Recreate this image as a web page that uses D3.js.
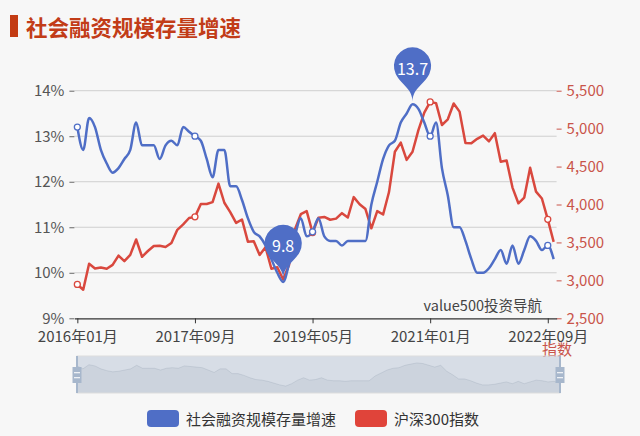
<!DOCTYPE html>
<html><head><meta charset="utf-8">
<script src="https://cdn.jsdelivr.net/npm/d3@7/dist/d3.min.js"></script>
<style>html,body{margin:0;padding:0;background:#f7f7f7;}svg{display:block;}</style>
</head><body><svg id="c" width="640" height="436"></svg>
<script>
// ---- data ----
const startYear = 2016, startMonth = 1, monthCount = 82;
const categories = [];
for (let k = 0; k < monthCount; k++) {
  const y = startYear + Math.floor((startMonth - 1 + k) / 12);
  const m = (startMonth - 1 + k) % 12 + 1;
  categories.push(y + "年" + String(m).padStart(2, "0") + "月");
}
const tickLabels = ["2016年01月","2017年09月","2019年05月","2021年01月","2022年09月"];
const socialFinancingGrowth = [
13.2,12.7,13.4,13.2,12.7,12.4,12.2,12.3,12.5,12.7,
13.3,12.8,12.8,12.8,12.5,12.8,12.9,12.8,13.2,13.1,
13.0,12.9,12.5,12.1,12.7,12.7,11.9,11.9,11.6,11.2,
10.9,10.8,10.6,10.3,10.0,9.8,10.2,10.8,11.2,10.8,
10.9,11.2,10.8,10.7,10.7,10.6,10.7,10.7,10.7,10.7,
11.5,12.0,12.5,12.8,12.9,13.3,13.5,13.7,13.6,13.3,
13.0,13.3,12.3,11.7,11.0,11.0,10.7,10.3,10.0,10.0,
10.1,10.3,10.5,10.2,10.6,10.2,10.5,10.8,10.7,10.5,
10.6,10.3];
const csi300 = [
2946,2877,3218,3156,3169,3154,3204,3327,3253,3336,
3539,3311,3387,3452,3456,3439,3493,3666,3737,3822,
3837,4006,4006,4031,4275,4023,3899,3757,3802,3510,
3517,3335,3438,3153,3173,3011,3202,3670,3872,3913,
3630,3826,3836,3799,3814,3886,3829,4097,4004,3940,
3686,3913,3868,4164,4696,4816,4588,4695,4980,5211,
5352,5336,5048,5123,5331,5224,4811,4806,4866,4908,
4832,4940,4564,4581,4223,4016,4091,4485,4170,4079,
3804,3508];
const leftTicks = [9,10,11,12,13,14];
const rightTicks = [2500,3000,3500,4000,4500,5000,5500];
const markPoints = [{label:"9.8", index:35}, {label:"13.7", index:57}];
const seriesNames = ["社会融资规模存量增速","沪深300指数"];
const titleText = "社会融资规模存量增速";
const watermark = "value500投资导航";
const rightAxisName = "指数";

// ---- styles ----
const BLUE = "#4f6ec6", RED = "#d9483e", RED_AX = "#c9544a";
const FONT = "'Noto Sans CJK SC','Noto Sans',sans-serif";
const svg = d3.select("#c");
svg.append("rect").attr("width",640).attr("height",436).attr("fill","#f7f7f7");

const gl = 74.4, gr = 556.6, gt = 90.7, gb = 318.3;
const x = d3.scalePoint().domain(categories).range([gl, gr]).padding(0.5);
const yL = d3.scaleLinear().domain([9,14]).range([gb, gt]);
const yR = d3.scaleLinear().domain([2500,5500]).range([gb, gt]);

// title
svg.append("rect").attr("x",10).attr("y",15).attr("width",8).attr("height",22).attr("fill","#c33b13");
svg.append("text").attr("x",26).attr("y",26).attr("dominant-baseline","central")
  .attr("font-family",FONT).attr("font-weight","bold").attr("font-size",21.5)
  .attr("fill","#c23c18").text(titleText);

// grid lines
svg.append("g").selectAll("line").data(leftTicks.slice(1)).join("line")
  .attr("x1",gl).attr("x2",gr).attr("y1",d=>yL(d)).attr("y2",d=>yL(d))
  .attr("stroke","#cfcfcf").attr("stroke-width",1);

// left axis
const axL = svg.append("g").attr("transform",`translate(${gl},0)`)
  .call(d3.axisLeft(yL).tickValues(leftTicks).tickFormat(d=>d+"%").tickSize(5).tickPadding(5));
axL.select(".domain").remove();
axL.selectAll("line").attr("stroke","#666");
axL.selectAll("text").attr("font-family",FONT).attr("font-size",15).attr("fill","#555");

// right axis
const axR = svg.append("g").attr("transform",`translate(${gr},0)`)
  .call(d3.axisRight(yR).tickValues(rightTicks).tickFormat(d3.format(",")).tickSize(5).tickPadding(5));
axR.select(".domain").remove();
axR.selectAll("line").attr("stroke",RED_AX);
axR.selectAll("text").attr("font-family",FONT).attr("font-size",15).attr("fill",RED_AX);

// bottom axis
const axB = svg.append("g").attr("transform",`translate(0,${gb})`)
  .call(d3.axisBottom(x).tickValues(tickLabels).tickSize(5).tickPadding(8).tickSizeOuter(0));
axB.select(".domain").attr("stroke","#333").attr("stroke-width",1.2);
axB.selectAll("line").attr("stroke","#333");
axB.selectAll("text").attr("font-family",FONT).attr("font-size",15).attr("fill","#444");

// watermark & axis name
svg.append("text").attr("x",542).attr("y",304.5).attr("text-anchor","end").attr("dominant-baseline","central")
  .attr("font-family",FONT).attr("font-size",14.5).attr("fill","#444").text(watermark);
svg.append("text").attr("x",557).attr("y",348).attr("text-anchor","middle").attr("dominant-baseline","central")
  .attr("font-family",FONT).attr("font-size",15).attr("fill",RED_AX).text(rightAxisName);

// lines
const lineB = d3.line().x((d,i)=>x(categories[i])).y(d=>yL(d)).curve(d3.curveMonotoneX);
const lineR = d3.line().x((d,i)=>x(categories[i])).y(d=>yR(d));
svg.append("path").datum(csi300).attr("d",lineR).attr("fill","none").attr("stroke",RED)
  .attr("stroke-width",2.5).attr("stroke-linejoin","round");
svg.append("path").datum(socialFinancingGrowth).attr("d",lineB).attr("fill","none").attr("stroke",BLUE)
  .attr("stroke-width",2.5).attr("stroke-linejoin","round");

// symbols at label intervals
const symIdx = tickLabels.map(t=>categories.indexOf(t));
svg.append("g").selectAll("circle").data(symIdx).join("circle")
  .attr("cx",i=>x(categories[i])).attr("cy",i=>yR(csi300[i])).attr("r",3)
  .attr("fill","#fff").attr("stroke",RED).attr("stroke-width",1.3);
svg.append("g").selectAll("circle").data(symIdx).join("circle")
  .attr("cx",i=>x(categories[i])).attr("cy",i=>yL(socialFinancingGrowth[i])).attr("r",3)
  .attr("fill","#fff").attr("stroke",BLUE).attr("stroke-width",1.3);

// pins (ECharts-style)
function pinPath(px, py, size) {
  const w = size/5*3, h = size, r = w/2, dy = r*r/(h-r), cy = py - h + r + dy;
  const angle = Math.asin(dy/r), dx = Math.cos(angle)*r, tanX = Math.sin(angle), tanY = Math.cos(angle);
  const cpLen = r*0.6, cpLen2 = r*0.7;
  const p = d3.path();
  p.moveTo(px - dx, cy + dy);
  p.arc(px, cy, r, Math.PI - angle, Math.PI*2 + angle);
  p.bezierCurveTo(px + dx - tanX*cpLen, cy + dy + tanY*cpLen, px, py - cpLen2, px, py);
  p.bezierCurveTo(px, py - cpLen2, px - dx + tanX*cpLen, cy + dy + tanY*cpLen, px - dx, cy + dy);
  p.closePath();
  return {d: p.toString(), cy: cy};
}
markPoints.forEach(mp=>{
  const px = x(categories[mp.index]), py = yL(socialFinancingGrowth[mp.index]) - 3;
  const pp = pinPath(px, py, 62);
  svg.append("path").attr("d",pp.d).attr("fill",BLUE);
  svg.append("text").attr("x",px).attr("y",pp.cy+2).attr("text-anchor","middle").attr("dominant-baseline","central")
    .attr("font-family",FONT).attr("font-size",16).attr("fill","#fff").text(mp.label);
});

// data zoom slider
const sx0 = 77, sx1 = 560, sy0 = 356, sy1 = 393;
const sg = svg.append("g");
const ext = d3.extent(socialFinancingGrowth), off = (ext[1]-ext[0])*0.3;
const sxs = d3.scaleLinear().domain([0, monthCount-1]).range([sx0, sx1]);
const sys = d3.scaleLinear().domain([ext[0]-off, ext[1]+off]).range([sy1, sy0]);
const area = d3.area().x((d,i)=>sxs(i)).y0(sy1).y1(d=>sys(d));
sg.append("path").datum(socialFinancingGrowth).attr("d",area).attr("fill","rgba(47,69,84,0.09)");
sg.append("path").datum(socialFinancingGrowth).attr("d",d3.line().x((d,i)=>sxs(i)).y(d=>sys(d)))
  .attr("fill","none").attr("stroke","rgba(47,69,84,0.25)").attr("stroke-width",0.6);
sg.append("rect").attr("x",sx0).attr("y",sy0).attr("width",sx1-sx0).attr("height",sy1-sy0)
  .attr("fill","rgba(167,183,204,0.4)");
sg.append("rect").attr("x",sx0).attr("y",sy0).attr("width",sx1-sx0).attr("height",sy1-sy0)
  .attr("fill","none").attr("stroke","#dddddd").attr("stroke-width",1);
[sx0, sx1].forEach(hx=>{
  const hg = sg.append("g");
  hg.append("rect").attr("x",hx-1).attr("y",sy0).attr("width",2).attr("height",sy1-sy0).attr("fill","#a7b7cc");
  hg.append("rect").attr("x",hx-4.5).attr("y",sy0+11).attr("width",9).attr("height",16).attr("fill","#a7b7cc");
  hg.append("rect").attr("x",hx-3).attr("y",sy0+16).attr("width",6).attr("height",1.3).attr("fill","#eef1f5");
  hg.append("rect").attr("x",hx-3).attr("y",sy0+21).attr("width",6).attr("height",1.3).attr("fill","#eef1f5");
});

// legend
const legend = [{name:seriesNames[0], color:BLUE, x:147}, {name:seriesNames[1], color:"#e0443a", x:355}];
legend.forEach(l=>{
  svg.append("rect").attr("x",l.x).attr("y",410).attr("width",32).attr("height",17).attr("rx",4).attr("fill",l.color);
  svg.append("text").attr("x",l.x+39).attr("y",418.5).attr("dominant-baseline","central")
    .attr("font-family",FONT).attr("font-size",15).attr("fill","#333").text(l.name);
});
</script></body></html>
